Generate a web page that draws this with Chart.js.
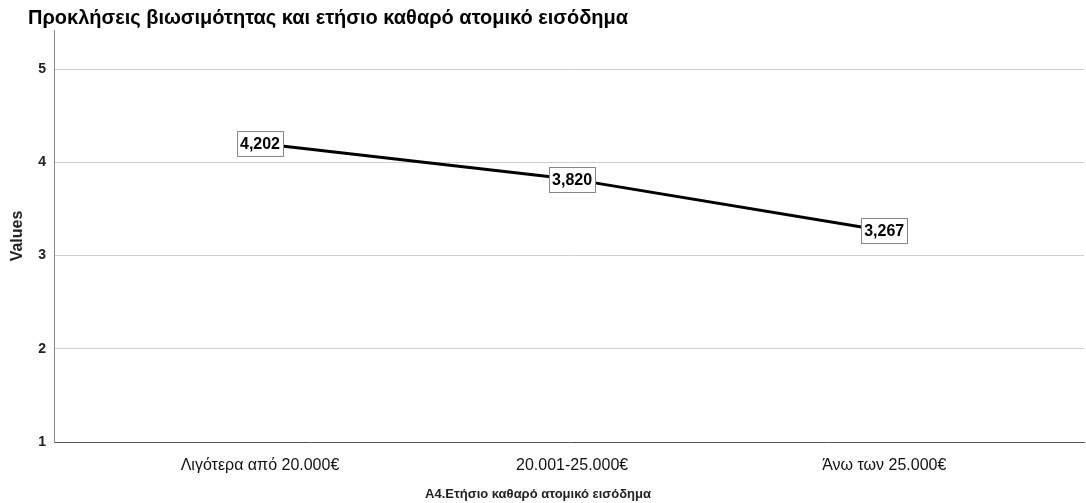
<!DOCTYPE html>
<html>
<head>
<meta charset="utf-8">
<script src="https://cdn.jsdelivr.net/npm/chart.js@4"></script>
<style>
  body { margin: 0; background: #fff; }
  #wrap { width: 1086px; height: 503px; position: relative; }
</style>
</head>
<body>
<div id="wrap"><canvas id="lineChart"></canvas></div>
<script>
// data
const categories = ['Λιγότερα από 20.000€', '20.001-25.000€', 'Άνω των 25.000€'];
const values = [4.202, 3.820, 3.267];
const yTicks = [1, 2, 3, 4, 5];

const chartTitle = 'Προκλήσεις βιωσιμότητας και ετήσιο καθαρό ατομικό εισόδημα';
const xTitle = 'A4.Ετήσιο καθαρό ατομικό εισόδημα';
const fontFamily = '"Liberation Sans", Arial, sans-serif';

// title, x axis title and boxed value labels
const extras = {
  id: 'extras',
  afterDatasetsDraw(chart) {
    const ctx = chart.ctx;
    ctx.save();
    // value labels
    ctx.font = 'bold 16px ' + fontFamily;
    ctx.textAlign = 'center';
    ctx.textBaseline = 'middle';
    chart.getDatasetMeta(0).data.forEach((pt, i) => {
      const txt = values[i].toFixed(3).replace('.', ',');
      const w = Math.round(ctx.measureText(txt).width + 6);
      const h = 25;
      const x0 = Math.round(pt.x - w / 2), y0 = Math.round(pt.y - h / 2);
      ctx.fillStyle = '#fff';
      ctx.fillRect(x0, y0, w, h);
      ctx.strokeStyle = '#888';
      ctx.lineWidth = 1;
      ctx.strokeRect(x0 + 0.5, y0 + 0.5, w, h);
      ctx.fillStyle = '#000';
      ctx.fillText(txt, pt.x, pt.y + 1);
    });
    // chart title
    ctx.font = 'bold 20px ' + fontFamily;
    ctx.textAlign = 'left';
    ctx.fillStyle = '#000';
    ctx.fillText(chartTitle, 28, 18);
    // x axis title
    ctx.font = 'bold 13px ' + fontFamily;
    ctx.textAlign = 'center';
    ctx.fillStyle = '#222';
    ctx.fillText(xTitle, 538, 494);
    ctx.restore();
  }
};

const data = {
  datasets: [{
    data: values.map((v, i) => ({ x: i, y: v })),
    borderColor: '#000',
    borderWidth: 3,
    pointRadius: 0,
    fill: false,
    tension: 0
  }]
};

const config = {
  type: 'line',
  data,
  plugins: [extras],
  options: {
    responsive: true,
    maintainAspectRatio: false,
    animation: false,
    layout: { padding: { top: 30, right: 2, left: 0, bottom: 0 } },
    plugins: {
      legend: { display: false },
      tooltip: { enabled: false }
    },
    scales: {
      x: {
        type: 'linear',
        min: -0.66,
        max: 2.64,
        afterBuildTicks: (scale) => { scale.ticks = categories.map((c, i) => ({ value: i })); },
        afterFit: (scale) => { scale.height = 61; },
        grid: { display: false, drawTicks: false },
        border: { color: '#555', width: 1 },
        ticks: {
          callback: (v) => categories[v],
          font: { family: fontFamily, size: 16 },
          color: '#111',
          padding: 14,
          maxRotation: 0
        }
      },
      y: {
        min: 1,
        max: 5.42,
        afterBuildTicks: (scale) => { scale.ticks = yTicks.map(v => ({ value: v })); },
        afterFit: (scale) => { scale.width = 54; },
        grid: {
          color: (c) => c.tick && c.tick.value === 1 ? 'rgba(0,0,0,0)' : '#cfcfcf',
          drawTicks: false
        },
        border: { color: '#888', width: 1 },
        ticks: {
          font: { family: fontFamily, size: 14, weight: 'bold' },
          color: '#222',
          padding: 8
        },
        title: {
          display: true,
          text: 'Values',
          font: { family: fontFamily, size: 16, weight: 'bold' },
          color: '#222',
          padding: { top: 8, bottom: 0 }
        }
      }
    }
  }
};

const lineChart = new Chart(document.getElementById('lineChart'), config);
</script>
</body>
</html>
